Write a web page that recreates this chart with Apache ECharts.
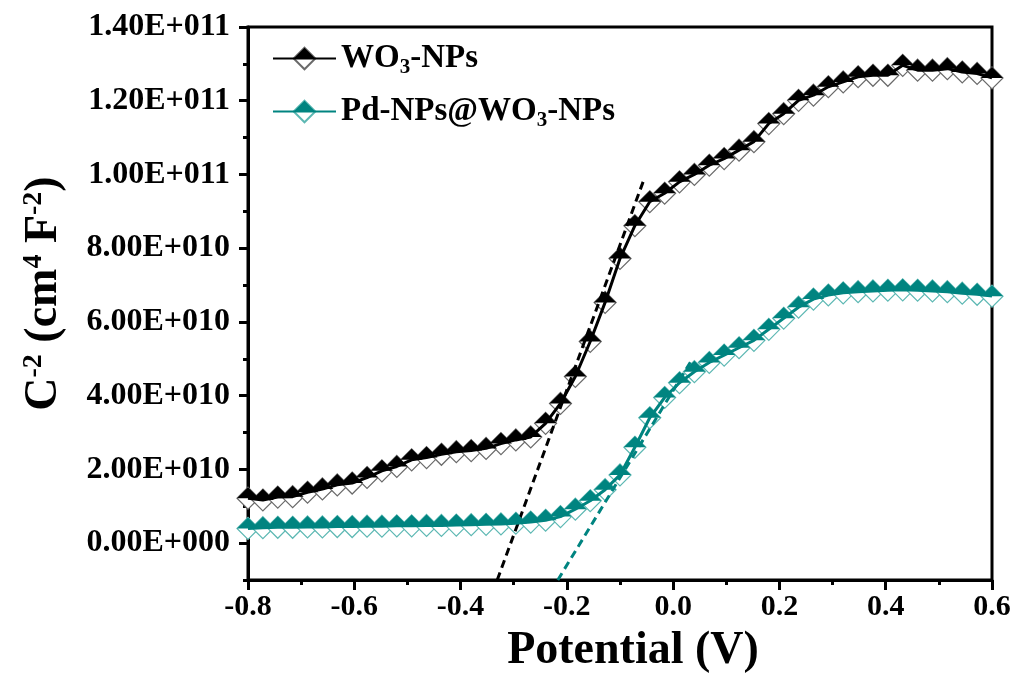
<!DOCTYPE html>
<html>
<head>
<meta charset="utf-8">
<script src="https://cdn.jsdelivr.net/npm/echarts@6/dist/echarts.min.js"></script>
<style>html,body{margin:0;padding:0;background:#fff}#c{width:1019px;height:679px}</style>
</head>
<body>
<div id="c"></div>
<script>
// ---- data ----
const potentials = [-0.800,-0.772,-0.744,-0.716,-0.688,-0.660,-0.632,-0.604,-0.576,-0.548,
  -0.520,-0.492,-0.464,-0.436,-0.408,-0.380,-0.352,-0.324,-0.296,-0.268,
  -0.240,-0.212,-0.184,-0.156,-0.128,-0.100,-0.072,-0.044,-0.016,0.012,
  0.040,0.068,0.096,0.124,0.152,0.180,0.208,0.236,0.264,0.292,
  0.320,0.348,0.376,0.404,0.432,0.460,0.488,0.516,0.544,0.572,0.600];
const wo3 = [1.22e10,1.17e10,1.25e10,1.26e10,1.38e10,1.47e10,1.58e10,1.63e10,1.78e10,1.96e10,
  2.08e10,2.26e10,2.32e10,2.41e10,2.48e10,2.51e10,2.57e10,2.70e10,2.80e10,2.88e10,
  3.25e10,3.79e10,4.52e10,5.47e10,6.53e10,7.72e10,8.61e10,9.26e10,9.49e10,9.80e10,
  10.00e10,10.25e10,10.43e10,10.66e10,10.89e10,11.38e10,11.65e10,12.01e10,12.15e10,12.38e10,
  12.51e10,12.65e10,12.69e10,12.69e10,12.96e10,12.83e10,12.83e10,12.87e10,12.78e10,12.74e10,12.62e10];
const pdWo3 = [0.40e10,0.42e10,0.43e10,0.43e10,0.44e10,0.44e10,0.45e10,0.45e10,0.46e10,0.46e10,
  0.47e10,0.47e10,0.48e10,0.48e10,0.49e10,0.50e10,0.51e10,0.52e10,0.54e10,0.57e10,
  0.62e10,0.72e10,0.92e10,1.15e10,1.45e10,1.85e10,2.60e10,3.40e10,3.95e10,4.35e10,
  4.65e10,4.90e10,5.10e10,5.30e10,5.50e10,5.80e10,6.10e10,6.40e10,6.62e10,6.73e10,
  6.79e10,6.82e10,6.84e10,6.86e10,6.87e10,6.86e10,6.84e10,6.82e10,6.78e10,6.75e10,6.70e10];
const wo3FitX = [-0.331, -0.054];
const wo3FitY = [-1.0e10, 9.9e10];
const pdFitX = [-0.217, 0.035];
const pdFitY = [-1.0e10, 4.97e10];
const yTickValues = [0, 2e10, 4e10, 6e10, 8e10, 10e10, 12e10, 14e10];
const yTickLabels = ['0.00E+000','2.00E+010','4.00E+010','6.00E+010','8.00E+010','1.00E+011','1.20E+011','1.40E+011'];
const yMinorTicks = [-1e10, 1e10, 3e10, 5e10, 7e10, 9e10, 11e10, 13e10];
const seriesNames = ['WO3-NPs', 'Pd-NPs@WO3-NPs'];
const legendLabels = ['{b|WO}{sub|3}{b|-NPs}', '{b|Pd-NPs@WO}{sub|3}{b|-NPs}'];

// ---- chart ----
const FONT = 'Liberation Serif';
const BLACK = '#000000';
const TEAL = '#008480';
const TEAL_LIGHT = '#5db8b3';
const GREY = '#6a6a6a';
const HALF_TOP = 'path://M0,10 L10,0 L20,10 Z M10,20 L10.01,20 Z';
const MARK = [22, 22];

const zip = (xs, ys) => xs.map((x, i) => [x, ys[i]]);
const richLegend = {
  b: {fontFamily: FONT, fontWeight: 'bold', fontSize: 33, color: '#000'},
  sub: {fontFamily: FONT, fontWeight: 'bold', fontSize: 21, color: '#000', padding: [18, 0, 0, 0]}
};

const chart = echarts.init(document.getElementById('c'), null, {renderer: 'canvas'});
chart.setOption({
  animation: false,
  backgroundColor: '#fff',
  grid: {left: 248, right: 27, top: 27, bottom: 97, show: true, borderColor: '#000', borderWidth: 3},
  legend: [
    {
      data: ['WO3 open', 'Pd open'], orient: 'vertical', left: 267, top: 37,
      itemWidth: 63, itemHeight: 27, itemGap: 17, selectedMode: false, z: 4,
      formatter: () => '{b| }{sub| }', textStyle: {rich: richLegend}
    },
    {
      data: seriesNames, orient: 'vertical', left: 267, top: 37,
      itemWidth: 63, itemHeight: 27, itemGap: 17, selectedMode: false, z: 5,
      formatter: (name) => legendLabels[seriesNames.indexOf(name)], textStyle: {rich: richLegend}
    }
  ],
  xAxis: {
    type: 'value', min: -0.8, max: 0.6, interval: 0.2,
    axisLine: {show: true, onZero: false, lineStyle: {color: '#000', width: 3}},
    axisTick: {show: true, length: 10, lineStyle: {color: '#000', width: 3}},
    minorTick: {show: true, splitNumber: 2, length: 5, lineStyle: {color: '#000', width: 3}},
    splitLine: {show: false},
    axisLabel: {
      margin: 12, color: '#000', fontFamily: FONT, fontWeight: 'bold', fontSize: 30,
      formatter: (v) => (Math.abs(v) < 1e-9 ? 0 : v).toFixed(1)
    },
    name: 'Potential (V)', nameLocation: 'middle', nameGap: 48,
    nameTextStyle: {color: '#000', fontFamily: FONT, fontWeight: 'bold', fontSize: 46, padding: [0, 0, 0, 26]}
  },
  yAxis: [
    {
      type: 'value', min: -1e10, max: 1.4e11, position: 'left',
      axisLine: {show: true, onZero: false, lineStyle: {color: '#000', width: 3}},
      axisTick: {show: true, customValues: yTickValues, length: 9, lineStyle: {color: '#000', width: 3}},
      splitLine: {show: false},
      axisLabel: {
        customValues: yTickValues, margin: 18, color: '#000', fontFamily: FONT, fontWeight: 'bold', fontSize: 32,
        formatter: (v) => { const i = yTickValues.indexOf(v); return i >= 0 ? yTickLabels[i] : ''; }
      },
      name: 'C{sup|-2} (cm{sup|4} F{sup|-2})', nameLocation: 'middle', nameGap: 180,
      nameTextStyle: {
        color: '#000', fontFamily: FONT, fontWeight: 'bold', fontSize: 46, padding: [0, 0, 0, 20],
        rich: {sup: {color: '#000', fontFamily: FONT, fontWeight: 'bold', fontSize: 28, padding: [0, 0, 20, 0]}}
      }
    },
    {
      type: 'value', min: -1e10, max: 1.4e11, position: 'left',
      axisLine: {show: false, onZero: false},
      axisTick: {show: true, customValues: yMinorTicks, length: 5, lineStyle: {color: '#000', width: 3}},
      axisLabel: {show: false},
      splitLine: {show: false}
    }
  ],
  series: [
    {
      name: 'WO3 open', type: 'line', data: zip(potentials, wo3), z: 2,
      symbol: 'diamond', symbolSize: MARK, showAllSymbol: true,
      itemStyle: {color: '#fff', borderColor: GREY, borderWidth: 1.2},
      lineStyle: {opacity: 0}
    },
    {
      name: 'Pd open', type: 'line', data: zip(potentials, pdWo3), z: 2,
      symbol: 'diamond', symbolSize: MARK, showAllSymbol: true,
      itemStyle: {color: '#fff', borderColor: TEAL_LIGHT, borderWidth: 1.2},
      lineStyle: {opacity: 0}
    },
    {
      name: 'fit WO3', type: 'line', data: zip(wo3FitX, wo3FitY), z: 3, symbol: 'none',
      lineStyle: {color: BLACK, width: 3, type: [8, 5]}
    },
    {
      name: 'fit Pd', type: 'line', data: zip(pdFitX, pdFitY), z: 3, symbol: 'none',
      lineStyle: {color: TEAL, width: 3, type: [8, 5]}
    },
    {
      name: seriesNames[0], type: 'line', data: zip(potentials, wo3), z: 4,
      symbol: HALF_TOP, symbolSize: MARK, showAllSymbol: true,
      itemStyle: {color: BLACK, borderWidth: 0},
      lineStyle: {color: BLACK, width: 3}
    },
    {
      name: seriesNames[1], type: 'line', data: zip(potentials, pdWo3), z: 4,
      symbol: HALF_TOP, symbolSize: MARK, showAllSymbol: true,
      itemStyle: {color: TEAL, borderWidth: 0},
      lineStyle: {color: TEAL, width: 3}
    }
  ]
});
</script>
</body>
</html>
